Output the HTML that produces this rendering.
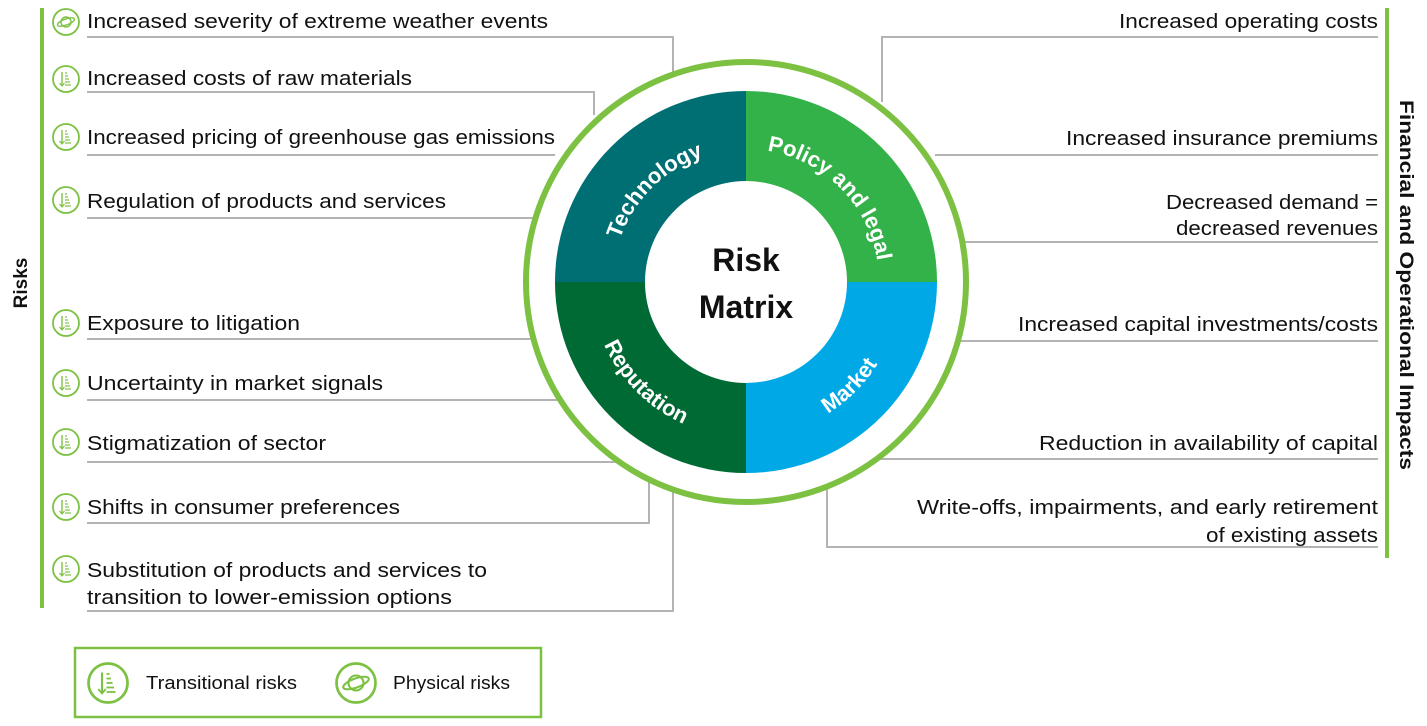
<!DOCTYPE html>
<html><head><meta charset="utf-8"><style>
html,body{margin:0;padding:0;background:#fff;}
svg{display:block;}
text{font-family:"Liberation Sans",sans-serif;fill:#111;}
</style></head><body>
<svg width="1427" height="726" viewBox="0 0 1427 726" xmlns="http://www.w3.org/2000/svg">
<defs>
<g id="tr">
<circle cx="0" cy="0" r="13" fill="#fff" stroke="#7dc143" stroke-width="1.8"/>
<line x1="-4" y1="-7" x2="-4" y2="6" stroke="#7dc143" stroke-width="1.4"/>
<path d="M-6.5 4 L-4 7 L-1.5 4" fill="none" stroke="#7dc143" stroke-width="1.2"/>
<line x1="-1" y1="-6" x2="1" y2="-6" stroke="#7dc143" stroke-width="1.2"/>
<line x1="-1" y1="-3" x2="2" y2="-3" stroke="#7dc143" stroke-width="1.2"/>
<line x1="-1" y1="0" x2="3" y2="0" stroke="#7dc143" stroke-width="1.2"/>
<line x1="-1" y1="3" x2="4" y2="3" stroke="#7dc143" stroke-width="1.2"/>
<line x1="-1" y1="6" x2="5" y2="6" stroke="#7dc143" stroke-width="1.2"/>
</g>
<g id="ph">
<circle cx="0" cy="0" r="13" fill="#fff" stroke="#7dc143" stroke-width="1.8"/>
<circle cx="0" cy="0" r="5" fill="none" stroke="#7dc143" stroke-width="1.4"/>
<ellipse cx="0" cy="0" rx="9" ry="3" transform="rotate(-20)" fill="none" stroke="#7dc143" stroke-width="1.4"/>
</g>
<path id="pT" d="M613 282 A133 133 0 0 1 746 149"/>
<path id="pP" d="M746 149 A133 133 0 0 1 879 282"/>
<path id="pM" d="M746 437 A155 155 0 0 0 901 282"/>
<path id="pR" d="M591 282 A155 155 0 0 0 746 437"/>
</defs>

<g stroke="#b3b3b3" stroke-width="2" fill="none">
<polyline points="87,37 673,37 673,72"/>
<polyline points="87,92 594,92 594,115"/>
<line x1="87" y1="155" x2="555" y2="155"/>
<line x1="87" y1="218" x2="535" y2="218"/>
<line x1="87" y1="339" x2="535" y2="339"/>
<line x1="87" y1="400" x2="562" y2="400"/>
<line x1="87" y1="462" x2="622" y2="462"/>
<polyline points="87,523 649,523 649,470"/>
<polyline points="87,611 673,611 673,480"/>
<polyline points="1378,37 882,37 882,102"/>
<line x1="1378" y1="155" x2="935" y2="155"/>
<line x1="1378" y1="242" x2="962" y2="242"/>
<line x1="1378" y1="341" x2="960" y2="341"/>
<line x1="1378" y1="459" x2="880" y2="459"/>
<polyline points="1378,547 827,547 827,488"/>
</g>

<rect x="40" y="8" width="4" height="600" fill="#7dc143"/>
<rect x="1385" y="8" width="4" height="550" fill="#7dc143"/>
<text transform="translate(27,283) rotate(-90)" text-anchor="middle" font-size="19" font-weight="bold">Risks</text>
<text transform="translate(1400,285) rotate(90)" text-anchor="middle" font-size="19" font-weight="bold" textLength="370" lengthAdjust="spacingAndGlyphs">Financial and Operational Impacts</text>

<circle cx="746" cy="282" r="220" fill="#fff" stroke="#7dc143" stroke-width="6"/>
<path d="M746 282 L555 282 A191 191 0 0 1 746 91 Z" fill="#006f73"/>
<path d="M746 282 L746 91 A191 191 0 0 1 937 282 Z" fill="#33b249"/>
<path d="M746 282 L937 282 A191 191 0 0 1 746 473 Z" fill="#00a9e6"/>
<path d="M746 282 L746 473 A191 191 0 0 1 555 282 Z" fill="#006a35"/>
<circle cx="746" cy="282" r="101" fill="#fff"/>
<text x="746" y="271" text-anchor="middle" font-size="32" font-weight="bold">Risk</text>
<text x="746" y="318" text-anchor="middle" font-size="32" font-weight="bold">Matrix</text>
<g font-size="22" font-weight="bold">
<text style="fill:#fff"><textPath href="#pT" startOffset="50%" text-anchor="middle">Technology</textPath></text>
<text style="fill:#fff"><textPath href="#pP" startOffset="50%" text-anchor="middle">Policy and legal</textPath></text>
<text style="fill:#fff"><textPath href="#pM" startOffset="50%" text-anchor="middle">Market</textPath></text>
<text style="fill:#fff"><textPath href="#pR" startOffset="50%" text-anchor="middle">Reputation</textPath></text>
</g>

<g font-size="20">
<use href="#ph" x="66" y="22"/>
<text x="87" y="28" textLength="461" lengthAdjust="spacingAndGlyphs">Increased severity of extreme weather events</text>
<use href="#tr" x="66" y="79"/>
<text x="87" y="85" textLength="325" lengthAdjust="spacingAndGlyphs">Increased costs of raw materials</text>
<use href="#tr" x="66" y="137"/>
<text x="87" y="144" textLength="468" lengthAdjust="spacingAndGlyphs">Increased pricing of greenhouse gas emissions</text>
<use href="#tr" x="66" y="200"/>
<text x="87" y="208" textLength="359" lengthAdjust="spacingAndGlyphs">Regulation of products and services</text>
<use href="#tr" x="66" y="323"/>
<text x="87" y="330" textLength="213" lengthAdjust="spacingAndGlyphs">Exposure to litigation</text>
<use href="#tr" x="66" y="383"/>
<text x="87" y="390" textLength="296" lengthAdjust="spacingAndGlyphs">Uncertainty in market signals</text>
<use href="#tr" x="66" y="442"/>
<text x="87" y="450" textLength="239" lengthAdjust="spacingAndGlyphs">Stigmatization of sector</text>
<use href="#tr" x="66" y="507"/>
<text x="87" y="514" textLength="313" lengthAdjust="spacingAndGlyphs">Shifts in consumer preferences</text>
<use href="#tr" x="66" y="569"/>
<text x="87" y="577" textLength="400" lengthAdjust="spacingAndGlyphs">Substitution of products and services to</text>
<text x="87" y="604" textLength="365" lengthAdjust="spacingAndGlyphs">transition to lower-emission options</text>
</g>

<g font-size="20" text-anchor="end">
<text x="1378" y="28" textLength="259" lengthAdjust="spacingAndGlyphs">Increased operating costs</text>
<text x="1378" y="145" textLength="312" lengthAdjust="spacingAndGlyphs">Increased insurance premiums</text>
<text x="1378" y="209" textLength="212" lengthAdjust="spacingAndGlyphs">Decreased demand =</text>
<text x="1378" y="235" textLength="202" lengthAdjust="spacingAndGlyphs">decreased revenues</text>
<text x="1378" y="331" textLength="360" lengthAdjust="spacingAndGlyphs">Increased capital investments/costs</text>
<text x="1378" y="450" textLength="339" lengthAdjust="spacingAndGlyphs">Reduction in availability of capital</text>
<text x="1378" y="514" textLength="461" lengthAdjust="spacingAndGlyphs">Write-offs, impairments, and early retirement</text>
<text x="1378" y="542" textLength="172" lengthAdjust="spacingAndGlyphs">of existing assets</text>
</g>

<rect x="75" y="648" width="466" height="69" fill="#fff" stroke="#7dc143" stroke-width="2.5"/>
<use href="#tr" transform="translate(108,683) scale(1.5)"/>
<text x="146" y="689" font-size="18" textLength="151" lengthAdjust="spacingAndGlyphs">Transitional risks</text>
<use href="#ph" transform="translate(356,683) scale(1.5)"/>
<text x="393" y="689" font-size="18" textLength="117" lengthAdjust="spacingAndGlyphs">Physical risks</text>
</svg>
</body></html>
